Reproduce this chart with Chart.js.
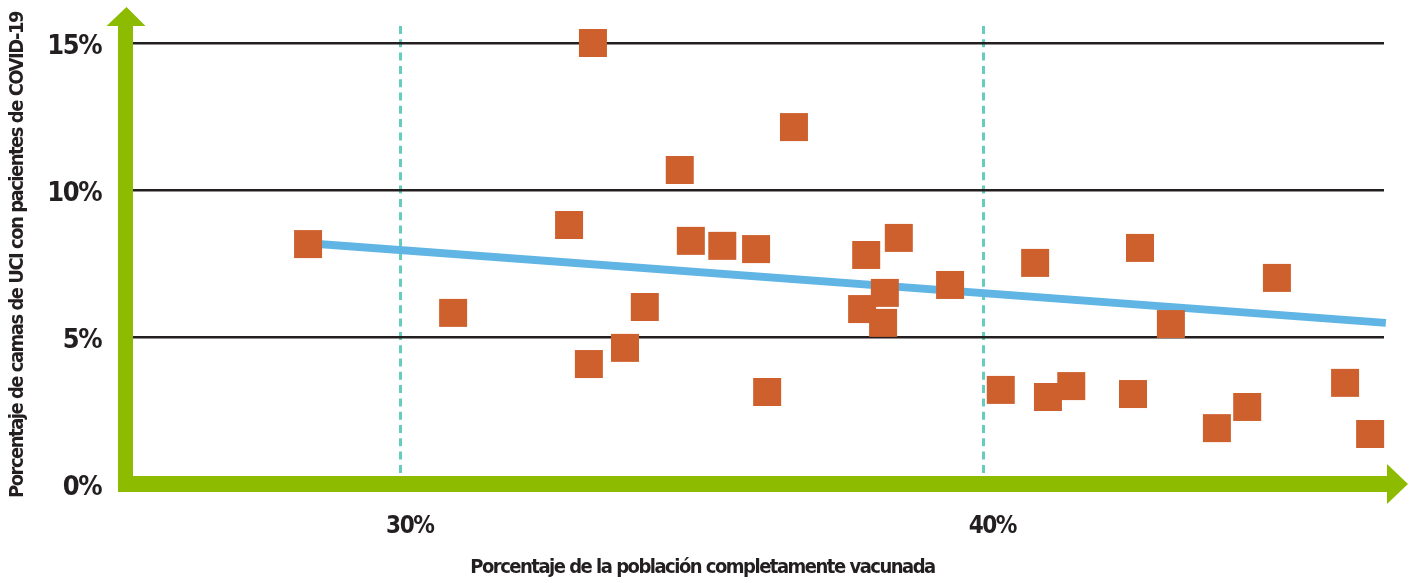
<!DOCTYPE html>
<html><head><meta charset="utf-8">
<script src="https://cdn.jsdelivr.net/npm/chart.js@4"></script>
<style>html,body{margin:0;padding:0;background:#fff;overflow:hidden;}</style>
</head><body>
<canvas id="c" width="1415" height="583"></canvas>
<script>
// ---- data ----
const vaccinatedPct = [28.41, 30.90, 32.89, 33.30, 33.23, 33.85, 34.19, 34.79, 34.98, 35.52, 36.10, 36.29, 36.75, 37.99, 37.92, 38.31, 38.28, 38.55, 39.43, 40.30, 40.89, 41.11, 41.51, 42.57, 42.69, 43.22, 44.01, 44.53, 45.04, 46.21, 46.64];
const icuPct        = [8.16, 5.82, 8.81, 15.00, 4.08, 4.63, 6.02, 10.68, 8.27, 8.10, 7.99, 3.13, 12.14, 7.79, 5.95, 6.50, 5.48, 8.37, 6.77, 3.20, 7.52, 2.96, 3.33, 3.06, 8.03, 5.44, 1.90, 2.62, 7.01, 3.44, 1.70];
const trendX = [28.41, 46.91];
const trendY = [8.19, 5.48];
const xTickValues = [30, 40];
const yTickValues = [0, 5, 10, 15];
const xTitle = 'Porcentaje de la población completamente vacunada';
const yTitle = 'Porcentaje de camas de UCI con pacientes de COVID-19';

// ---- styles ----
const FONT = "'Liberation Sans Narrow', 'DejaVu Sans Condensed', sans-serif";
const TEXT = '#231F20';
const GREEN = '#8DBB00';
const TIGHT = '-1.5px';

const tightText = {
  id: 'tightText',
  beforeUpdate(chart) { chart.ctx.letterSpacing = TIGHT; },
  beforeDraw(chart) { chart.ctx.letterSpacing = TIGHT; }
};

const greenAxes = {
  id: 'greenAxes',
  afterDraw(chart) {
    const {ctx, chartArea: a} = chart;
    const cx = a.left - 7.5, cy = a.bottom;
    ctx.save();
    ctx.fillStyle = GREEN;
    ctx.fillRect(a.left - 15, a.top, 15, cy + 8 - a.top);
    ctx.beginPath();
    ctx.moveTo(cx + 1, a.top - 19);
    ctx.lineTo(cx - 19, a.top);
    ctx.lineTo(cx + 20, a.top);
    ctx.closePath(); ctx.fill();
    ctx.fillRect(a.left - 15, cy - 8, a.right + 3 - (a.left - 15), 16);
    ctx.beginPath();
    ctx.moveTo(a.right + 3, cy - 20);
    ctx.lineTo(a.right + 24, cy);
    ctx.lineTo(a.right + 3, cy + 20);
    ctx.closePath(); ctx.fill();
    ctx.restore();
  }
};

new Chart(document.getElementById('c'), {
  type: 'scatter',
  data: {
    datasets: [
      {
        data: vaccinatedPct.map((x, i) => ({x, y: icuPct[i]})),
        pointStyle: 'rect', pointRadius: 19.8, pointHoverRadius: 19.8,
        backgroundColor: '#CD602D', borderWidth: 0, clip: false
      },
      {
        type: 'line',
        data: trendX.map((x, i) => ({x, y: trendY[i]})),
        borderColor: '#60B5E5', borderWidth: 8, pointRadius: 0, fill: false, clip: false
      }
    ]
  },
  options: {
    responsive: false, animation: false, devicePixelRatio: 1,
    layout: {padding: {top: 26, right: 10, bottom: 3, left: 0}},
    plugins: {
      legend: {display: false}, tooltip: {enabled: false},
      title: {display: true, position: 'bottom', text: xTitle, color: TEXT,
        font: {family: FONT, size: 20, weight: 'bold', lineHeight: 1.2}, padding: {top: 0, bottom: 0}}
    },
    scales: {
      x: {
        type: 'linear', position: 'bottom', min: 25.405, max: 46.878,
        afterBuildTicks: s => { s.ticks = xTickValues.map(v => ({value: v})); },
        afterFit: s => { s.height = 583 - 3 - 24 - 484; s.paddingLeft = 0; s.paddingRight = 0; },
        ticks: {callback: v => v + '%', color: TEXT, padding: 28, labelOffset: 9, maxRotation: 0, autoSkip: false,
          font: {family: FONT, size: 24, weight: 'bold'}},
        grid: {color: '#66CDBE', lineWidth: 3, drawTicks: false},
        border: {display: false, dash: [8, 5.3]}
      },
      y: {
        type: 'linear', position: 'left', min: 0, max: 15.578,
        afterBuildTicks: s => { s.ticks = yTickValues.map(v => ({value: v})); },
        afterFit: s => { s.width = 133; s.paddingTop = 0; s.paddingBottom = 0; },
        ticks: {callback: v => v + '%', color: TEXT, padding: 32, labelOffset: 4,
          font: {family: FONT, size: 27, weight: 'bold'}},
        grid: {color: c => (c.tick && c.tick.value === 0) ? 'rgba(0,0,0,0)' : TEXT, lineWidth: 2.5, drawTicks: false},
        border: {display: false},
        title: {display: true, text: yTitle, color: TEXT, padding: {top: 6, bottom: 0},
          font: {family: FONT, size: 20, weight: 'bold', lineHeight: 1.2}}
      },
      y2: {
        type: 'linear', position: 'right', display: true,
        grid: {display: false}, ticks: {display: false}, border: {display: false},
        afterFit: s => { s.width = 21; s.paddingTop = 0; s.paddingBottom = 0; }
      }
    }
  },
  plugins: [tightText, greenAxes]
});
</script>
</body></html>
